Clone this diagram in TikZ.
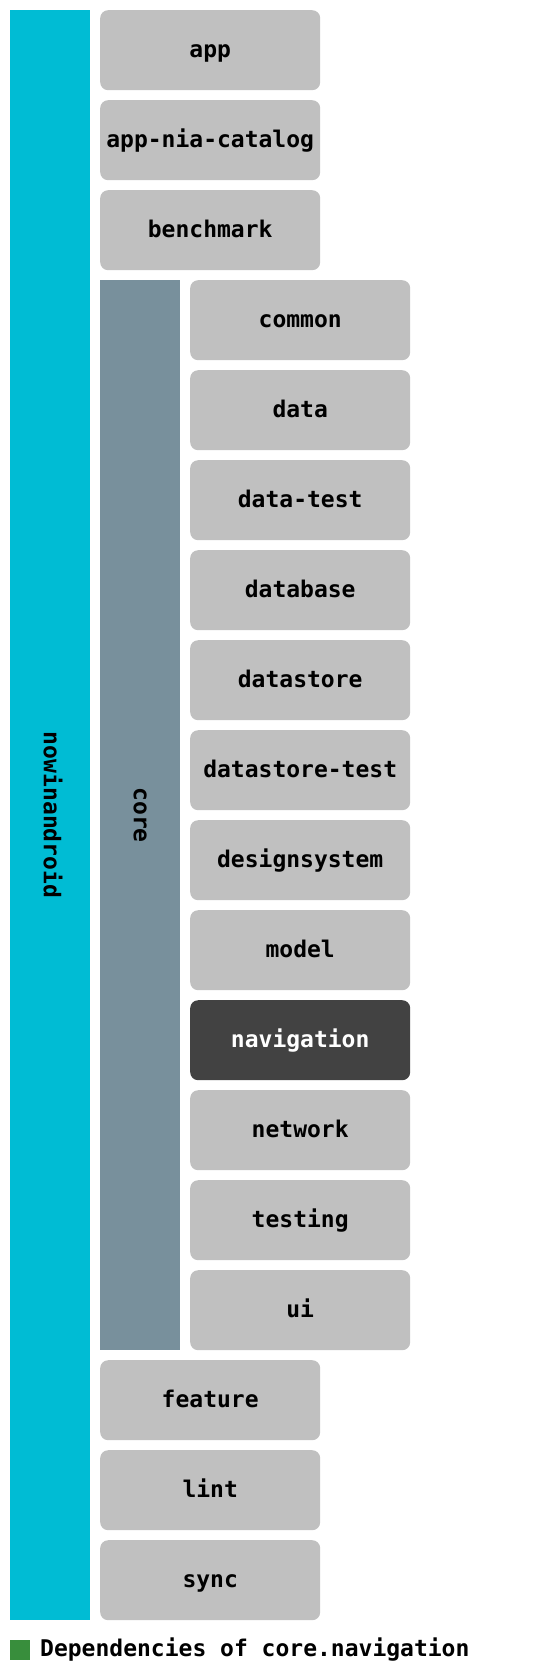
\documentclass[tikz,border=0pt]{standalone}
\usepackage{fontspec}
\setmonofont{DejaVu Sans Mono}
\definecolor{nia}{HTML}{00BCD4}
\definecolor{corec}{HTML}{78909C}
\definecolor{modc}{HTML}{C0C0C0}
\definecolor{selc}{HTML}{424242}
\definecolor{legc}{HTML}{388E3C}
\begin{document}
\begin{tikzpicture}[x=1pt,y=-1pt,
  lbl/.style={font=\ttfamily\bfseries\fontsize{23}{23}\selectfont},
  modbox/.style={lbl,fill=modc,rounded corners=8pt,minimum width=220pt,minimum height=80pt,anchor=north west,inner sep=0pt,text=black,text height=15.5pt,text depth=0pt},
  selbox/.style={modbox,fill=selc,text=white},
  barlbl/.style={lbl,rotate=-90,text height=12.5pt,text depth=0pt}]
\useasboundingbox (0,0) rectangle (540,1671);
\fill[white] (0,0) rectangle (540,1671);
% group bars
\fill[nia] (10,10) rectangle (90,1620);
\fill[corec] (100,280) rectangle (180,1350);
\node[barlbl] (nowinandroid) at (50,815) {nowinandroid};
\node[barlbl] (core) at (140,815) {core};
% top-level modules
\node[modbox] (app) at (100,10) {app};
\node[modbox] (catalog) at (100,100) {app-nia-catalog};
\node[modbox] (benchmark) at (100,190) {benchmark};
% core modules
\node[modbox] (common) at (190,280) {common};
\node[modbox] (data) at (190,370) {data};
\node[modbox] (datatest) at (190,460) {data-test};
\node[modbox] (database) at (190,550) {database};
\node[modbox] (datastore) at (190,640) {datastore};
\node[modbox] (datastoretest) at (190,730) {datastore-test};
\node[modbox] (designsystem) at (190,820) {designsystem};
\node[modbox] (model) at (190,910) {model};
\node[selbox] (navigation) at (190,1000) {navigation};
\node[modbox] (network) at (190,1090) {network};
\node[modbox] (testing) at (190,1180) {testing};
\node[modbox] (ui) at (190,1270) {ui};
% remaining modules
\node[modbox] (feature) at (100,1360) {feature};
\node[modbox] (lint) at (100,1450) {lint};
\node[modbox] (sync) at (100,1540) {sync};
% legend
\fill[legc] (10,1640) rectangle (30,1660);
\node[lbl,anchor=base west,inner sep=0pt] (legend) at (40,1656) {Dependencies of core.navigation};
\end{tikzpicture}
\end{document}
